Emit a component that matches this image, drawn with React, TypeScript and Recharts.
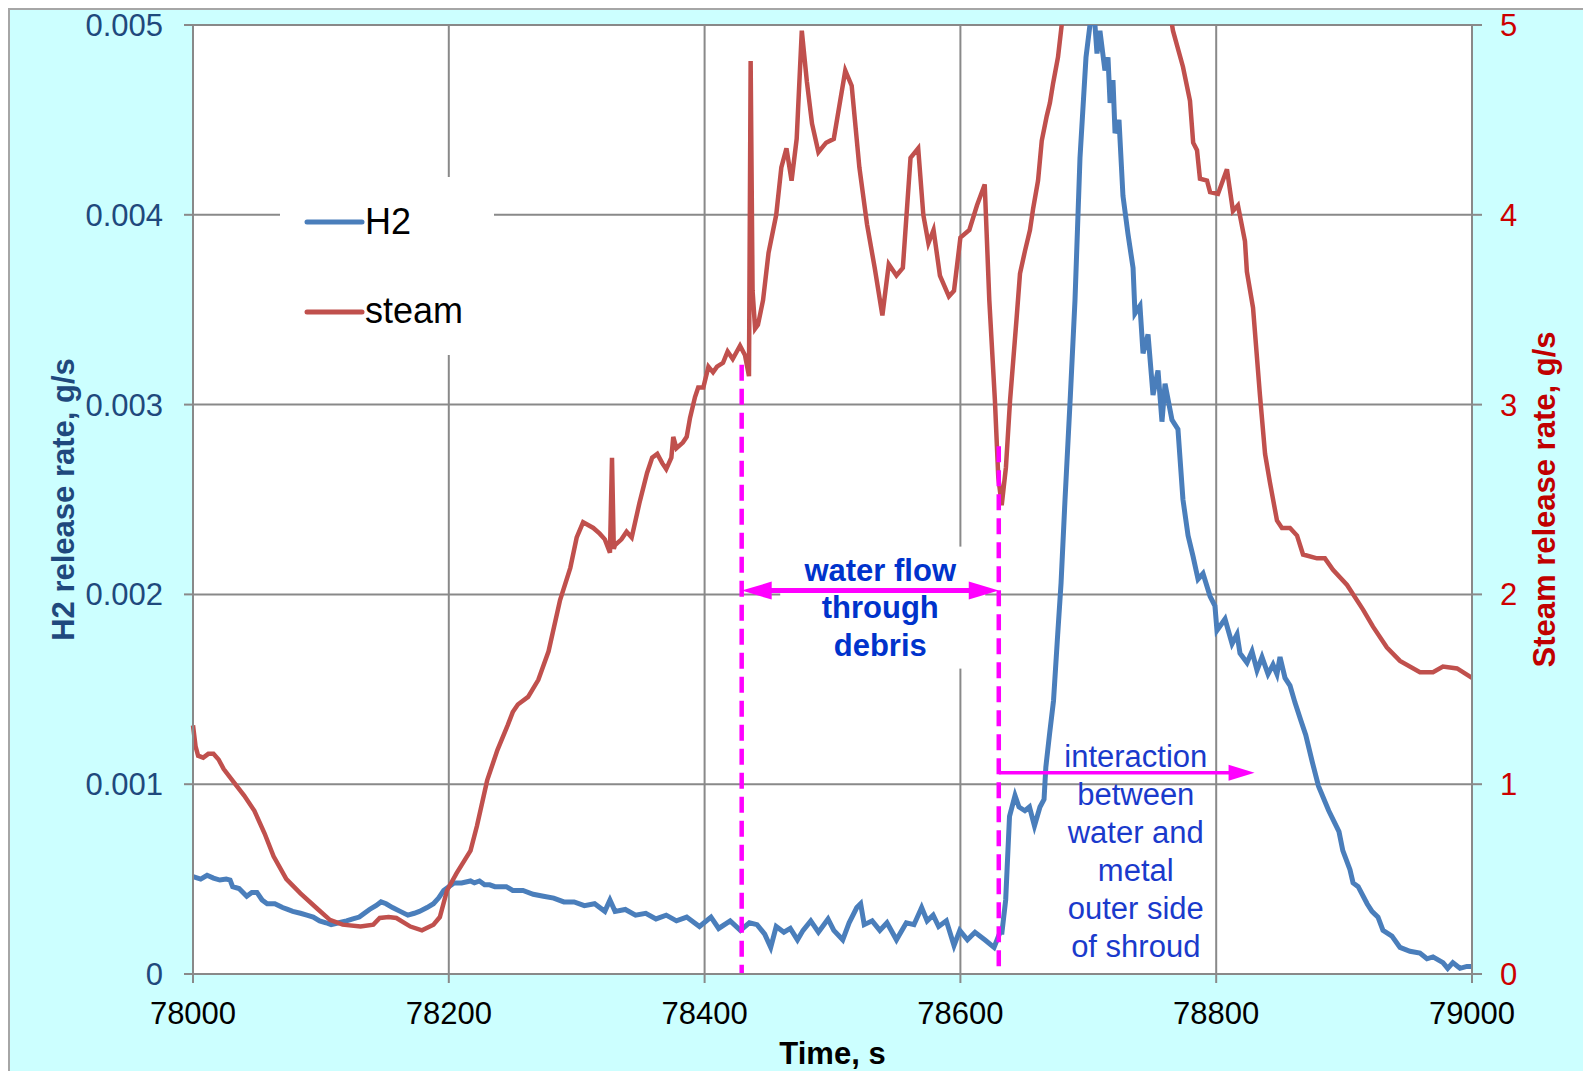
import React from "react";
import { CartesianGrid, Legend, Line, LineChart, ReferenceLine, XAxis, YAxis } from "recharts";

const FONT = '"Liberation Sans", Arial, Helvetica, sans-serif';
const MAGENTA = "#ff00ff";
const GRID = "#898989";

const timeTicks = [78000, 78200, 78400, 78600, 78800, 79000];
const h2Ticks = [0, 0.001, 0.002, 0.003, 0.004, 0.005];
const steamTicks = [0, 1, 2, 3, 4, 5];

// H2 release rate, g/s (left axis)
const h2Time = [
  78000, 78006, 78011, 78016, 78021, 78026, 78029, 78031, 78036, 78042, 78046, 78050, 78054, 78058,
  78064, 78070, 78074, 78078, 78084, 78089, 78094, 78099, 78104, 78108, 78114, 78120, 78125, 78130,
  78134, 78138, 78143, 78147, 78151, 78156, 78162, 78168, 78173, 78177, 78183, 78188, 78192, 78196,
  78200, 78204, 78210, 78217, 78220, 78224, 78228, 78232, 78236, 78240, 78245, 78250, 78258, 78266,
  78274, 78282, 78290, 78298, 78306, 78314, 78322, 78326, 78330, 78338, 78346, 78354, 78362, 78370,
  78378, 78386, 78392, 78396, 78405, 78411, 78420, 78428, 78435, 78441, 78447, 78451.7, 78456, 78462,
  78467, 78472.6, 78477, 78483, 78489, 78496.5, 78501, 78508, 78513, 78519, 78522, 78524.8, 78531,
  78537, 78542.6, 78550, 78557.7, 78563.7, 78569.7, 78574, 78578.7, 78583, 78589, 78595, 78599.5,
  78605.5, 78611.4, 78619, 78626.3, 78631, 78632.5, 78635.4, 78638.4, 78642.7, 78645.8, 78650.4,
  78654, 78657.9, 78662.2, 78665.4, 78666.8, 78669.8, 78672.8, 78675.8, 78678.7, 78681.8, 78686,
  78689.6, 78693.5, 78698.2, 78701.3, 78703, 78705, 78706.8, 78709.1, 78713, 78715.4, 78717, 78719.3,
  78720.9, 78724, 78727.1, 78731, 78735, 78736.5, 78740.4, 78742.8, 78746.7, 78750.6, 78754.5,
  78757.6, 78760, 78765.4, 78770.1, 78774, 78778, 78781.9, 78785.8, 78789.7, 78795.2, 78799, 78800.6,
  78806.9, 78812.4, 78816.3, 78818.6, 78824.1, 78828, 78831.9, 78835.8, 78840.5, 78844.4, 78847.5,
  78849.9, 78853.8, 78857.7, 78861.6, 78866, 78870, 78875, 78880, 78888, 78896, 78899, 78904.6, 78907,
  78911, 78918, 78921.8, 78926.5, 78930.4, 78937.4, 78943.7, 78951.5, 78959.3, 78964.8, 78969.5,
  78977.3, 78981, 78985, 78990.6, 78996, 79000,
];
const h2Rate = [
  0.000513, 0.0005, 0.00052, 0.000505, 0.000495, 0.0005, 0.000495, 0.00046, 0.00045, 0.00041, 0.00043,
  0.00043, 0.00039, 0.00037, 0.00037, 0.00035, 0.00034, 0.00033, 0.00032, 0.00031, 0.0003, 0.00028,
  0.00027, 0.00026, 0.00027, 0.00028, 0.00029, 0.0003, 0.00032, 0.00034, 0.00036, 0.00038, 0.00037,
  0.00035, 0.00033, 0.00031, 0.00032, 0.00033, 0.00035, 0.00037, 0.0004, 0.00044, 0.00046, 0.00048,
  0.00048, 0.00049, 0.00048, 0.00049, 0.00047, 0.00047, 0.00046, 0.00046, 0.00046, 0.00044, 0.00044,
  0.00042, 0.00041, 0.0004, 0.00038, 0.00038, 0.00036, 0.00037, 0.00033, 0.00039, 0.00033, 0.00034,
  0.00031, 0.00032, 0.00029, 0.00031, 0.00028, 0.0003, 0.00027, 0.00025, 0.0003, 0.00024, 0.00028,
  0.00023, 0.00027, 0.00026, 0.00021, 0.00014, 0.00025, 0.00022, 0.00024, 0.00018, 0.00023, 0.00028,
  0.00022, 0.00029, 0.00023, 0.00018, 0.00027, 0.00035, 0.00037, 0.00026, 0.00028, 0.00023, 0.00027,
  0.00018, 0.00027, 0.00026, 0.00035, 0.00028, 0.00031, 0.00025, 0.00028, 0.00015, 0.00023, 0.00018,
  0.00022, 0.00018, 0.00014, 0.00022, 0.00022, 0.00039, 0.00083, 0.00094, 0.00088, 0.00086, 0.00088,
  0.00078, 0.00088, 0.00092, 0.00109, 0.00127, 0.00144, 0.00176, 0.00206, 0.0025, 0.00305, 0.00355,
  0.0043, 0.00483, 0.005, 0.00508, 0.00502, 0.00485, 0.00497, 0.00476, 0.00483, 0.00459, 0.00471,
  0.00443, 0.0045, 0.0041, 0.0039, 0.00372, 0.00348, 0.00352, 0.00327, 0.00337, 0.00305, 0.00318,
  0.00291, 0.00311, 0.00292, 0.00287, 0.0025, 0.00231, 0.0022, 0.00208, 0.00211, 0.00199, 0.00194,
  0.00181, 0.00187, 0.00174, 0.00179, 0.00169, 0.00164, 0.0017, 0.0016, 0.00167, 0.00158, 0.00163,
  0.00158, 0.00167, 0.00156, 0.00152, 0.00143, 0.00134, 0.00126, 0.00112, 0.00099, 0.00086, 0.00075,
  0.00065, 0.00055, 0.00048, 0.00046, 0.00037, 0.00033, 0.0003, 0.00023, 0.0002, 0.00014, 0.00012,
  0.00011, 0.00008, 0.00009, 0.00006, 0.00003, 0.00006, 0.00003, 0.00004, 0.00004,
];

// Steam release rate, g/s (right axis)
const steamTime = [
  78000, 78002, 78004, 78008, 78012, 78016, 78020, 78024, 78032, 78040, 78048, 78056, 78063, 78073,
  78084, 78097, 78107, 78117, 78131, 78141, 78146, 78153, 78159, 78170, 78179, 78188, 78193, 78198.6,
  78206, 78217, 78222, 78230, 78238, 78246, 78250, 78254, 78262, 78270, 78278, 78287, 78295, 78300,
  78305, 78313, 78318, 78322, 78326, 78327.6, 78329, 78330, 78335, 78339, 78343, 78349, 78355, 78359,
  78363, 78367, 78370, 78374, 78375.5, 78378, 78383, 78386, 78388.6, 78392.5, 78395, 78399, 78403,
  78406.6, 78409.7, 78414.4, 78418, 78422, 78427.7, 78431.6, 78434.7, 78436, 78437.5, 78439.5,
  78441.7, 78445.7, 78450, 78456, 78460, 78464, 78468, 78472, 78476, 78480, 78484, 78489, 78495,
  78501, 78506, 78510, 78515, 78521, 78527, 78533, 78539, 78544, 78550, 78555, 78561, 78567, 78571,
  78575, 78579, 78584, 78591, 78595, 78600, 78607, 78613, 78619, 78622.6, 78627, 78629.6, 78632.3,
  78635.6, 78638.8, 78644, 78646.6, 78650.5, 78654.4, 78656.8, 78660.7, 78663.6, 78667.5, 78670,
  78672.4, 78676.3, 78679.2, 78686, 78700, 78720, 78740, 78755, 78763, 78766.2, 78774, 78779.5, 78782,
  78785, 78787.3, 78792.8, 78795.2, 78801.4, 78808.4, 78813.1, 78817, 78822.5, 78824, 78828.8,
  78834.2, 78838.2, 78842, 78847.5, 78851.4, 78857.7, 78863.2, 78867.9, 78878.8, 78885, 78891.3,
  78902.3, 78914.8, 78922.6, 78933.5, 78943.7, 78959.3, 78969.5, 78977.3, 78988.3, 79000,
];
const steamRate = [
  1.31, 1.2, 1.15, 1.14, 1.16, 1.16, 1.13, 1.08, 1.01, 0.94, 0.86, 0.74, 0.62, 0.5, 0.425, 0.345,
  0.285, 0.26, 0.25, 0.26, 0.295, 0.3, 0.295, 0.25, 0.23, 0.26, 0.3, 0.44, 0.53, 0.65, 0.78, 1.02,
  1.18, 1.31, 1.38, 1.42, 1.46, 1.55, 1.7, 1.97, 2.14, 2.3, 2.38, 2.35, 2.32, 2.29, 2.22, 2.72, 2.24,
  2.26, 2.29, 2.33, 2.3, 2.48, 2.64, 2.72, 2.74, 2.69, 2.66, 2.72, 2.83, 2.77, 2.8, 2.83, 2.93, 3.04,
  3.09, 3.09, 3.2, 3.17, 3.2, 3.22, 3.28, 3.24, 3.31, 3.26, 3.15, 4.81, 3.6, 3.4, 3.42, 3.55, 3.8, 4.0,
  4.25, 4.35, 4.18, 4.4, 4.97, 4.7, 4.48, 4.33, 4.38, 4.4, 4.6, 4.76, 4.68, 4.25, 3.95, 3.72, 3.47,
  3.74, 3.68, 3.72, 4.3, 4.35, 4.0, 3.85, 3.92, 3.68, 3.57, 3.6, 3.88, 3.92, 4.05, 4.16, 3.55, 3.02,
  2.62, 2.47, 2.67, 3.02, 3.46, 3.69, 3.81, 3.92, 4.03, 4.18, 4.39, 4.52, 4.59, 4.69, 4.83, 5.0, 5.4,
  6.0, 6.3, 6.1, 5.6, 5.1, 4.97, 4.78, 4.6, 4.38, 4.34, 4.19, 4.18, 4.12, 4.11, 4.24, 4.02, 4.05, 3.86,
  3.7, 3.51, 3.05, 2.74, 2.59, 2.39, 2.35, 2.35, 2.31, 2.21, 2.19, 2.19, 2.13, 2.05, 1.92, 1.83, 1.72,
  1.65, 1.59, 1.59, 1.62, 1.61, 1.56,
];

// annotation anchors (time, s / H2 axis value)
const flowStart = 78429;
const flowEnd = 78630;
const interactionEnd = 78830;
const flowMarkTop = 0.00321;
const interactionMarkTop = 0.00278;
const flowArrowLevel = 0.00202;
const interactionArrowLevel = 0.00106;
const flowLabel = ["water flow", "through", "debris"];
const interactionLabel = ["interaction", "between", "water and", "metal", "outer side", "of shroud"];

const h2Data = h2Time.map((t, i) => ({ t, v: h2Rate[i] }));
const steamData = steamTime.map((t, i) => ({ t, v: steamRate[i] }));

function VerticalTitle({ viewBox, value, fill, dx }: any) {
  const cx = viewBox.x + dx;
  const cy = viewBox.y + viewBox.height / 2;
  return (
    <text x={cx} y={cy} transform={`rotate(-90 ${cx} ${cy})`} textAnchor="middle" dominantBaseline="central"
      fill={fill} fontSize={31} fontWeight="bold" fontFamily={FONT}>
      {value}
    </text>
  );
}

function TimeTitle({ viewBox }: any) {
  return (
    <text x={viewBox.x + viewBox.width / 2} y={viewBox.y + 90} textAnchor="middle" fill="#000"
      fontSize={31} fontWeight="bold" fontFamily={FONT}>
      Time, s
    </text>
  );
}

function FlowArrow({ x1, y1, x2 }: any) {
  const mid = (x1 + x2) / 2;
  return (
    <g>
      <rect x={mid - 90} y={y1 - 44} width={205} height={122} fill="#fff" />
      <line x1={x1 + 25} y1={y1} x2={x2 - 25} y2={y1} stroke={MAGENTA} strokeWidth={5} />
      <polygon points={`${x1},${y1} ${x1 + 30},${y1 - 9} ${x1 + 30},${y1 + 9}`} fill={MAGENTA} />
      <polygon points={`${x2},${y1} ${x2 - 30},${y1 - 9} ${x2 - 30},${y1 + 9}`} fill={MAGENTA} />
      {flowLabel.map((s, i) => (
        <text key={s} x={mid + 10} y={y1 - 10 + i * 37.5} textAnchor="middle" fill="#0033cc"
          fontSize={31} fontWeight="bold" fontFamily={FONT}>
          {s}
        </text>
      ))}
    </g>
  );
}

function InteractionArrow({ x1, y1, x2 }: any) {
  return (
    <g>
      <line x1={x1} y1={y1} x2={x2 - 22} y2={y1} stroke={MAGENTA} strokeWidth={3.5} />
      <polygon points={`${x2},${y1} ${x2 - 26},${y1 - 8} ${x2 - 26},${y1 + 8}`} fill={MAGENTA} />
      {interactionLabel.map((s, i) => (
        <text key={s} x={x1 + 137} y={y1 - 6 + i * 38} textAnchor="middle" fill="#1a3acc"
          fontSize={31} fontFamily={FONT}>
          {s}
        </text>
      ))}
    </g>
  );
}

function LegendBox({ payload }: any) {
  return (
    <svg width={214} height={178} style={{ display: "block" }}>
      <rect x={0} y={0} width={214} height={178} fill="#fff" />
      {(payload || []).map((e: any, i: number) => (
        <g key={e.value}>
          <line x1={27} y1={45 + i * 90} x2={82} y2={45 + i * 90} stroke={e.color} strokeWidth={5} strokeLinecap="round" />
          <text x={85} y={57 + i * 89} fill="#000" fontSize={36} fontFamily={FONT}>
            {e.value}
          </text>
        </g>
      ))}
    </svg>
  );
}

export default function App() {
  return (
    <div style={{ width: 1581, height: 1061, background: "#ccffff", borderLeft: "2px solid #a6a6a6", borderTop: "2px solid #a6a6a6" }}>
      <style>{"body{overflow:hidden}"}</style>
      <div style={{ marginTop: -10 }}>
        <LineChart width={1581} height={1071} margin={{ top: 25, right: 0, bottom: 0, left: 0 }}>
          <CartesianGrid yAxisId="h2" stroke={GRID} strokeWidth={2} fill="#fff" />
          <XAxis
            dataKey="t"
            type="number"
            domain={[78000, 79000]}
            ticks={timeTicks}
            interval={0}
            height={97}
            tickSize={9}
            tickMargin={19}
            axisLine={{ stroke: GRID, strokeWidth: 2 }}
            tickLine={{ stroke: GRID, strokeWidth: 2 }}
            tick={{ fill: "#000", fontSize: 31, fontFamily: FONT }}
            label={<TimeTitle />}
          />
          <YAxis
            yAxisId="h2"
            domain={[0, 0.005]}
            ticks={h2Ticks}
            interval={0}
            allowDataOverflow
            width={183}
            tickSize={9}
            tickMargin={21}
            axisLine={{ stroke: GRID, strokeWidth: 2 }}
            tickLine={{ stroke: GRID, strokeWidth: 2 }}
            tick={{ fill: "#1f497d", fontSize: 31, fontFamily: FONT }}
            label={<VerticalTitle value="H2 release rate, g/s" fill="#1f497d" dx={53} />}
          />
          <YAxis
            yAxisId="steam"
            orientation="right"
            domain={[0, 5]}
            ticks={steamTicks}
            interval={0}
            allowDataOverflow
            width={119}
            tickSize={10}
            tickMargin={18}
            axisLine={{ stroke: GRID, strokeWidth: 2 }}
            tickLine={{ stroke: GRID, strokeWidth: 2 }}
            tick={{ fill: "#cc0000", fontSize: 31, fontFamily: FONT }}
            label={<VerticalTitle value="Steam release rate, g/s" fill="#c00000" dx={72} />}
          />
          <Legend
            layout="vertical"
            align="center"
            verticalAlign="middle"
            wrapperStyle={{ left: 270, top: 177, width: 214, height: 178 }}
            content={<LegendBox />}
          />
          <Line data={h2Data} dataKey="v" name="H2" yAxisId="h2" stroke="#4a7ebb" strokeWidth={5} dot={false} activeDot={false} isAnimationActive={false} />
          <Line data={steamData} dataKey="v" name="steam" yAxisId="steam" stroke="#c0504d" strokeWidth={4.5} dot={false} activeDot={false} isAnimationActive={false} />
          <ReferenceLine yAxisId="h2" segment={[{ x: flowStart, y: flowMarkTop }, { x: flowStart, y: 0 }]} stroke={MAGENTA} strokeWidth={4.5} strokeDasharray="16 8" />
          <ReferenceLine yAxisId="h2" segment={[{ x: flowEnd, y: interactionMarkTop }, { x: flowEnd, y: 0 }]} stroke={MAGENTA} strokeWidth={4.5} strokeDasharray="16 8" />
          <ReferenceLine yAxisId="h2" segment={[{ x: flowStart, y: flowArrowLevel }, { x: flowEnd, y: flowArrowLevel }]} shape={(p: any) => <FlowArrow {...p} />} />
          <ReferenceLine yAxisId="h2" segment={[{ x: flowEnd, y: interactionArrowLevel }, { x: interactionEnd, y: interactionArrowLevel }]} shape={(p: any) => <InteractionArrow {...p} />} />
        </LineChart>
      </div>
    </div>
  );
}
